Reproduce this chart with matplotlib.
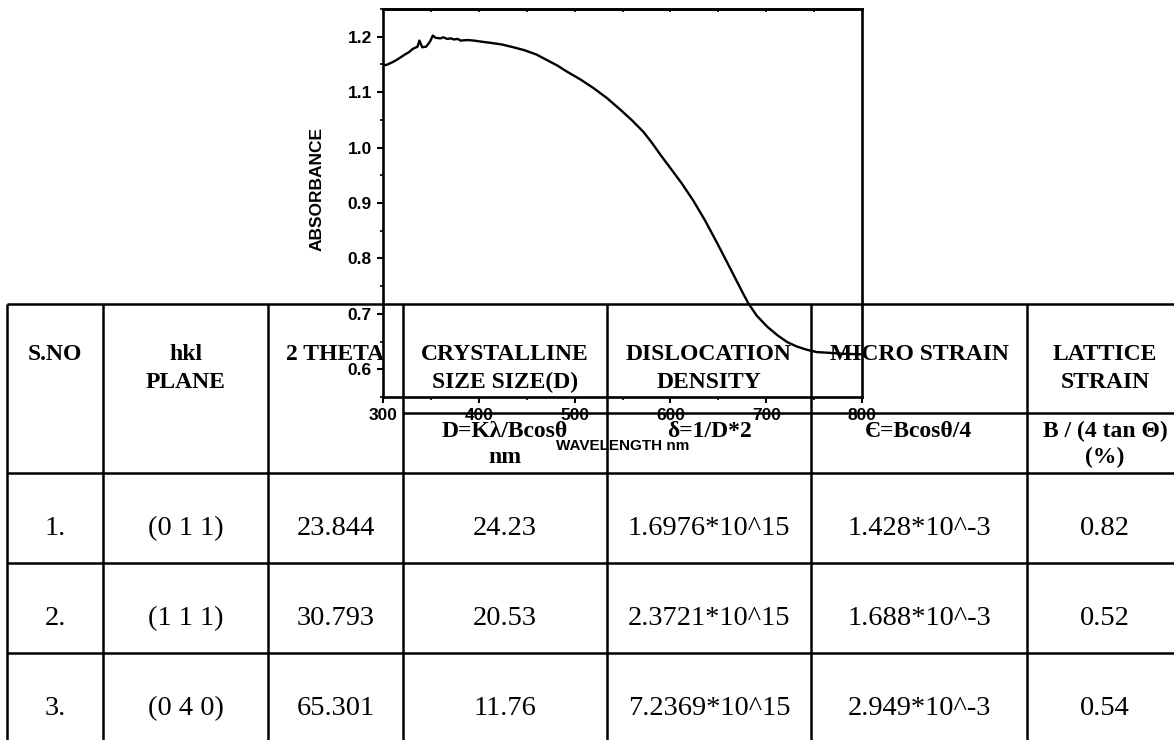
import matplotlib.pyplot as plt
from matplotlib.ticker import MultipleLocator, FormatStrFormatter

# UV-vis absorbance spectrum
wavelength = [300, 305, 311, 316, 322, 327, 331, 336, 338, 341, 345, 349, 352, 355,
              360, 363, 367, 371, 374, 378, 381, 388, 395, 403, 412, 424, 436, 447,
              460, 471, 482, 492, 506, 520, 534, 548, 560, 572, 581, 590, 600, 612,
              624, 636, 649, 658, 666, 674, 681, 690, 701, 712, 722, 732, 743, 753,
              763, 780, 800]
absorbance = [1.148, 1.150, 1.155, 1.160, 1.167, 1.172, 1.178, 1.182, 1.193, 1.181,
              1.182, 1.191, 1.202, 1.198, 1.197, 1.199, 1.196, 1.197, 1.195, 1.196,
              1.193, 1.194, 1.193, 1.191, 1.189, 1.186, 1.181, 1.176, 1.168, 1.158,
              1.148, 1.137, 1.123, 1.107, 1.089, 1.068, 1.049, 1.028, 1.008, 0.986,
              0.963, 0.935, 0.904, 0.869, 0.827, 0.797, 0.770, 0.743, 0.720, 0.697,
              0.677, 0.661, 0.649, 0.641, 0.635, 0.631, 0.630, 0.628, 0.627]

# table content
header = [["S.NO"], ["hkl", "PLANE"], ["2 THETA"], ["CRYSTALLINE", "SIZE SIZE(D)"],
          ["DISLOCATION", "DENSITY"], ["MICRO STRAIN"], ["LATTICE", "STRAIN"]]
formulas = [[], [], [], ["D=Kλ/Bcosθ", "nm"], ["δ=1/D*2"], ["Є=Bcosθ/4"],
            ["B / (4 tan Θ)", "(%)"]]
s_no = ["1.", "2.", "3."]
hkl = ["(0 1 1)", "(1 1 1)", "(0 4 0)"]
two_theta = ["23.844", "30.793", "65.301"]
crystal_size = ["24.23", "20.53", "11.76"]
dislocation = ["1.6976*10^15", "2.3721*10^15", "7.2369*10^15"]
micro_strain = ["1.428*10^-3", "1.688*10^-3", "2.949*10^-3"]
lattice_strain = ["0.82", "0.52", "0.54"]
columns = [s_no, hkl, two_theta, crystal_size, dislocation, micro_strain, lattice_strain]

W, H = 1174, 740
fig = plt.figure(figsize=(W / 100, H / 100), dpi=100)

# ---- table drawn in pixel coordinates ----
tab = fig.add_axes([0, 0, 1, 1])
tab.set_xlim(0, W)
tab.set_ylim(H, 0)
tab.axis('off')

col_x = [7, 103, 268, 403, 607, 811, 1027, 1183]
row_y = [473, 563, 653]
lw_tab = 1.8
tab.hlines(304, col_x[0], W, color='k', lw=lw_tab)
tab.hlines(413, col_x[3], W, color='k', lw=lw_tab)
for y in row_y:
    tab.hlines(y, col_x[0], W, color='k', lw=lw_tab)
for x in col_x[:-1]:
    tab.vlines(x, 304, H, color='k', lw=lw_tab)

serif = ['Liberation Serif', 'DejaVu Serif']
centers = [(col_x[i] + col_x[i + 1]) / 2 for i in range(len(col_x) - 1)]
for cx, lines in zip(centers, header):
    for k, txt in enumerate(lines):
        tab.text(cx, 360 + 28 * k, txt, ha='center', va='baseline',
                 family=serif, weight='bold', fontsize=17)
for cx, lines in zip(centers, formulas):
    for k, txt in enumerate(lines):
        tab.text(cx, 437 + 26 * k, txt, ha='center', va='baseline',
                 family=serif, weight='bold', fontsize=17)
baselines = [535, 625, 715]
for cx, vals in zip(centers, columns):
    for y, txt in zip(baselines, vals):
        tab.text(cx, y, txt, ha='center', va='baseline', family=serif, fontsize=20.5)

# ---- absorbance chart on top ----
ax = fig.add_axes([383 / W, 1 - 397 / H, (862 - 383) / W, (397 - 9) / H])
ax.patch.set_alpha(0)
ax.plot(wavelength, absorbance, color='k', lw=1.7)
ax.set_xlim(300, 800)
ax.set_ylim(0.55, 1.25)
ax.xaxis.set_major_locator(MultipleLocator(100))
ax.xaxis.set_minor_locator(MultipleLocator(50))
ax.yaxis.set_major_locator(MultipleLocator(0.1))
ax.yaxis.set_minor_locator(MultipleLocator(0.05))
ax.yaxis.set_major_formatter(FormatStrFormatter('%.1f'))
ax.tick_params(which='major', direction='out', length=4, width=1.5, pad=4)
ax.tick_params(which='minor', direction='out', length=2.2, width=1.2)
for lab in ax.get_xticklabels() + ax.get_yticklabels():
    lab.set_family('Liberation Sans')
    lab.set_weight('bold')
    lab.set_fontsize(12.5)
for sp in ax.spines.values():
    sp.set_linewidth(1.9)

top = ax.secondary_xaxis('top')
top.set_xticks(range(350, 800, 50))
top.set_xticklabels([])
top.tick_params(direction='in', length=2, width=1.2)
top.spines['top'].set_linewidth(1.9)

ax.set_xlabel('WAVELENGTH nm', family='Liberation Sans', weight='bold', fontsize=11)
ax.xaxis.set_label_coords(0.5, -(446 - 397) / 388)
ax.xaxis.label.set_va('center')
ax.set_ylabel('ABSORBANCE', family='Liberation Sans', weight='bold', fontsize=12.5)
ax.yaxis.set_label_coords(-(383 - 317) / 479, (397 - 189) / 388)
ax.yaxis.label.set_va('center')
ax.yaxis.label.set_ha('center')

fig.savefig('out.png', dpi=100)
